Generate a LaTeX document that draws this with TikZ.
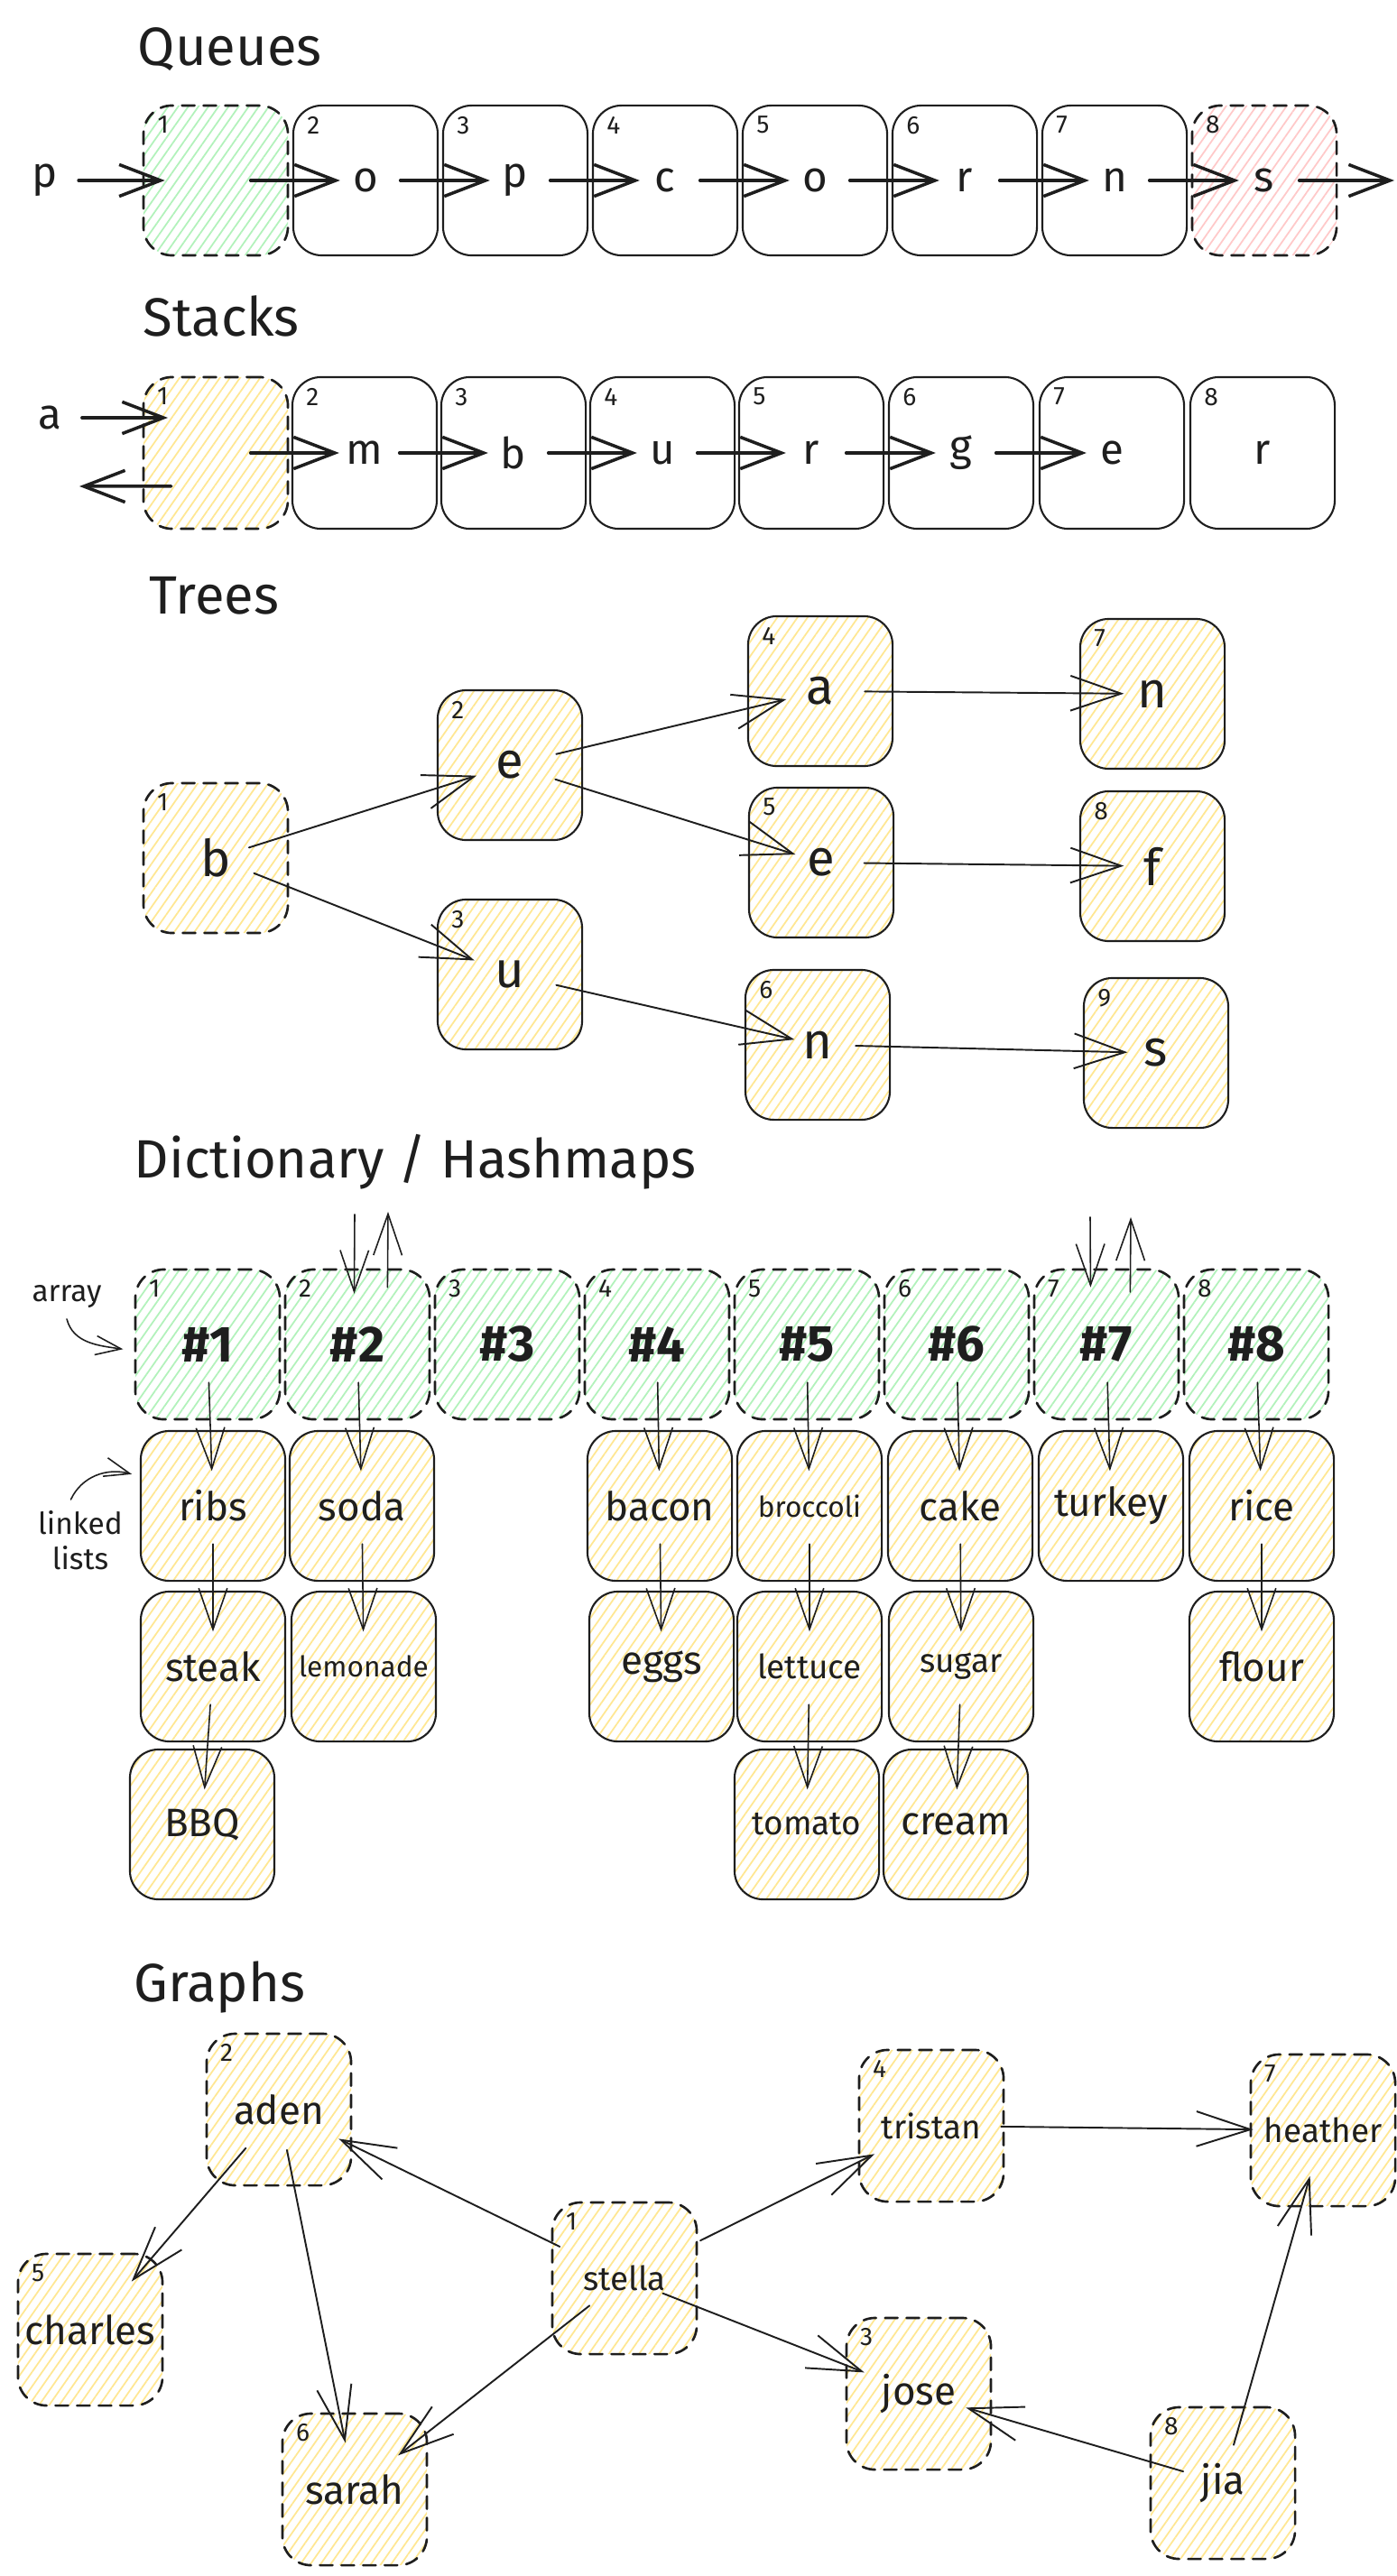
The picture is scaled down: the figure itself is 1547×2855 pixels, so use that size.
\documentclass[tikz,border=0pt]{standalone}
\usepackage{fontspec}
\setmainfont{Fira Sans}
\usetikzlibrary{arrows.meta,patterns.meta}

\definecolor{ink}{HTML}{1E1E1E}
\definecolor{hgreen}{HTML}{B2F2BB}
\definecolor{hyellow}{HTML}{FFE793}
\definecolor{hred}{HTML}{FFC9C9}

\newcommand{\ttlfont}{\fontsize{17}{20}\selectfont}
\newcommand{\letfont}{\fontsize{13.5}{15}\selectfont}
\newcommand{\treefont}{\fontsize{16}{18}\selectfont}
\newcommand{\hashfont}{\fontsize{16}{18}\selectfont\bfseries}
\newcommand{\wordfont}{\fontsize{12.5}{14}\selectfont}
\newcommand{\midword}{\fontsize{10.5}{12}\selectfont}
\newcommand{\tinyword}{\fontsize{9}{11}\selectfont}
\newcommand{\notefont}{\fontsize{9.5}{11}\selectfont}
\newcommand{\numfont}{\fontsize{8}{9}\selectfont}

\begin{document}
\begin{tikzpicture}[x=0.01cm, y=-0.01cm, color=ink, line join=round, line cap=round,
    cell/.style={draw, rectangle, rounded corners=9pt, minimum width=1.6cm, minimum height=1.66cm, line width=0.6pt, inner sep=0pt},
    dcell/.style={cell, dash pattern=on 4pt off 2.8pt, line width=0.75pt},
    hatch/.style={pattern={Lines[angle=55,distance=2.6pt,line width=0.5pt]}, pattern color=#1},
    cellno/.style={label={[font=\numfont, anchor=north west, inner sep=0pt, xshift=4.5pt, yshift=-3.5pt]north west:#1}},
    heading/.style={font=\ttlfont, anchor=west, inner sep=0pt},
    qarr/.style={line width=1pt, -{Straight Barb[length=13pt,width=10pt]}, shorten <=11pt, shorten >=8pt},
    tarr/.style={line width=0.55pt, -{Straight Barb[length=16pt,width=11pt]}},
    darr/.style={line width=0.45pt, -{Straight Barb[length=13pt,width=9pt]}, shorten <=12pt, shorten >=11pt},
    garr/.style={line width=0.55pt, -{Straight Barb[length=17pt,width=11pt]}},
    narr/.style={line width=0.45pt, -{Straight Barb[length=8pt,width=6pt]}}]
    \useasboundingbox (0,0) rectangle (1547,2855);

    % queues
    \node[heading] (tq) at (152,55) {Queues};
    \node[font=\letfont] (pin) at (50,200) {p};
    \node[dcell, hatch=hgreen, cellno=1] (q1) at (239,200) {};
    \node[cell, font=\letfont, cellno=2] (q2) at (405,200) {o};
    \node[cell, font=\letfont, cellno=3] (q3) at (571,200) {p};
    \node[cell, font=\letfont, cellno=4] (q4) at (737,200) {c};
    \node[cell, font=\letfont, cellno=5] (q5) at (903,200) {o};
    \node[cell, font=\letfont, cellno=6] (q6) at (1069,200) {r};
    \node[cell, font=\letfont, cellno=7] (q7) at (1235,200) {n};
    \node[dcell, hatch=hred, font=\letfont, cellno=8] (q8) at (1401,200) {s};
    \coordinate (qout) at (1545,200);
    \draw[qarr, shorten <=3pt, shorten >=0pt] (pin) -- ([xshift=7pt]q1.west);
    \draw[qarr] (q1.center) -- (q2.center);
    \draw[qarr] (q2.center) -- (q3.center);
    \draw[qarr] (q3.center) -- (q4.center);
    \draw[qarr] (q4.center) -- (q5.center);
    \draw[qarr] (q5.center) -- (q6.center);
    \draw[qarr] (q6.center) -- (q7.center);
    \draw[qarr] (q7.center) -- (q8.center);
    \draw[qarr, shorten >=0pt] (q8.center) -- (qout);

    % stacks
    \node[heading] (ts) at (158,350) {Stacks};
    \node[font=\letfont] (sa) at (55,463) {a};
    \coordinate (sain) at (186,463);
    \coordinate (sback) at (88,539);
    \node[dcell, hatch=hyellow, minimum height=1.68cm, cellno=1] (s1) at (239,502) {};
    \node[cell, minimum height=1.68cm, font=\letfont, cellno=2] (s2) at (404,502) {m};
    \node[cell, minimum height=1.68cm, font=\letfont, cellno=3] (s3) at (569,502) {b};
    \node[cell, minimum height=1.68cm, font=\letfont, cellno=4] (s4) at (734,502) {u};
    \node[cell, minimum height=1.68cm, font=\letfont, cellno=5] (s5) at (899,502) {r};
    \node[cell, minimum height=1.68cm, font=\letfont, cellno=6] (s6) at (1065,502) {g};
    \node[cell, minimum height=1.68cm, font=\letfont, cellno=7] (s7) at (1232,502) {e};
    \node[cell, minimum height=1.68cm, font=\letfont, cellno=8] (s8) at (1399,502) {r};
    \draw[qarr, shorten <=3pt, shorten >=0pt] (sa) -- (sain);
    \draw[qarr, shorten <=0pt, shorten >=0pt] ([xshift=-14pt,yshift=-10.5pt]s1.center) -- (sback);
    \draw[qarr] (s1.center) -- (s2.center);
    \draw[qarr] (s2.center) -- (s3.center);
    \draw[qarr] (s3.center) -- (s4.center);
    \draw[qarr] (s4.center) -- (s5.center);
    \draw[qarr] (s5.center) -- (s6.center);
    \draw[qarr] (s6.center) -- (s7.center);

    % trees
    \node[heading] (tt) at (165,660) {Trees};
    \node[dcell, hatch=hyellow, font=\treefont, cellno=1] (t1) at (239,951) {b};
    \node[cell, hatch=hyellow, font=\treefont, cellno=2] (t2) at (565,848) {e};
    \node[cell, hatch=hyellow, font=\treefont, cellno=3] (t3) at (565,1080) {u};
    \node[cell, hatch=hyellow, font=\treefont, cellno=4] (t4) at (909,766) {a};
    \node[cell, hatch=hyellow, font=\treefont, cellno=5] (t5) at (910,956) {e};
    \node[cell, hatch=hyellow, font=\treefont, cellno=6] (t6) at (906,1158) {n};
    \node[cell, hatch=hyellow, font=\treefont, cellno=7] (t7) at (1277,769) {n};
    \node[cell, hatch=hyellow, font=\treefont, cellno=8] (t8) at (1277,960) {f};
    \node[cell, hatch=hyellow, font=\treefont, cellno=9] (t9) at (1281,1167) {s};
    \draw[tarr, shorten <=11pt, shorten >=11pt] (t1.center) -- (t2.center);
    \draw[tarr, shorten <=13pt, shorten >=12pt] (t1.center) -- (t3.center);
    \draw[tarr, shorten <=15pt, shorten >=11pt] (t2.center) -- (t4.center);
    \draw[tarr, shorten <=15pt, shorten >=8.5pt] (t2.center) -- (t5.center);
    \draw[tarr, shorten <=15pt, shorten >=7.5pt] (t3.center) -- (t6.center);
    \draw[tarr, shorten <=14pt, shorten >=9pt] (t4.center) -- (t7.center);
    \draw[tarr, shorten <=13.5pt, shorten >=9pt] (t5.center) -- (t8.center);
    \draw[tarr, shorten <=12pt, shorten >=9pt] (t6.center) -- (t9.center);

    % dictionary / hashmaps
    \node[heading] (td) at (148,1288) {Dictionary / Hashmaps};
    \node[dcell, hatch=hgreen, font=\hashfont, cellno=1] (h1) at (230,1490) {\#1};
    \node[dcell, hatch=hgreen, font=\hashfont, cellno=2] (h2) at (396,1490) {\#2};
    \node[dcell, hatch=hgreen, font=\hashfont, cellno=3] (h3) at (562,1490) {\#3};
    \node[dcell, hatch=hgreen, font=\hashfont, cellno=4] (h4) at (728,1490) {\#4};
    \node[dcell, hatch=hgreen, font=\hashfont, cellno=5] (h5) at (894,1490) {\#5};
    \node[dcell, hatch=hgreen, font=\hashfont, cellno=6] (h6) at (1060,1490) {\#6};
    \node[dcell, hatch=hgreen, font=\hashfont, cellno=7] (h7) at (1226,1490) {\#7};
    \node[dcell, hatch=hgreen, font=\hashfont, cellno=8] (h8) at (1392,1490) {\#8};
    \node[font=\notefont] (alab) at (74,1437) {array};
    \node[font=\notefont, align=center] (llab) at (89,1707) {linked\\lists};
    \node[cell, hatch=hyellow, font=\wordfont] (ribs) at (236,1669) {ribs};
    \node[cell, hatch=hyellow, font=\wordfont] (soda) at (401,1669) {soda};
    \node[cell, hatch=hyellow, font=\wordfont] (bacon) at (731,1669) {bacon};
    \node[cell, hatch=hyellow, font=\tinyword] (broccoli) at (897,1669) {broccoli};
    \node[cell, hatch=hyellow, font=\wordfont] (cake) at (1064,1669) {cake};
    \node[cell, hatch=hyellow, font=\wordfont] (turkey) at (1231,1669) {turkey};
    \node[cell, hatch=hyellow, font=\wordfont] (rice) at (1398,1669) {rice};
    \node[cell, hatch=hyellow, font=\wordfont] (steak) at (236,1847) {steak};
    \node[cell, hatch=hyellow, font=\tinyword] (lemonade) at (403,1847) {lemonade};
    \node[cell, hatch=hyellow, font=\wordfont] (eggs) at (733,1847) {eggs};
    \node[cell, hatch=hyellow, font=\midword] (lettuce) at (897,1847) {lettuce};
    \node[cell, hatch=hyellow, font=\midword] (sugar) at (1065,1847) {sugar};
    \node[cell, hatch=hyellow, font=\wordfont] (flour) at (1398,1847) {flour};
    \node[cell, hatch=hyellow, font=\wordfont] (bbq) at (224,2022) {BBQ};
    \node[cell, hatch=hyellow, font=\midword] (tomato) at (894,2022) {tomato};
    \node[cell, hatch=hyellow, font=\wordfont] (cream) at (1059,2022) {cream};
    \coordinate (h2in) at (393,1346);
    \coordinate (h2out) at (430,1343);
    \coordinate (h7in) at (1208,1349);
    \coordinate (h7out) at (1253,1349);
    \draw[darr, shorten <=0pt, shorten >=0pt] (h2in) -- ([xshift=-1pt,yshift=-8pt]h2.north);
    \draw[darr, shorten <=0pt, shorten >=0pt] ([xshift=9.5pt,yshift=-6pt]h2.north) -- (h2out);
    \draw[darr, shorten <=0pt, shorten >=0pt] (h7in) -- ([xshift=-5pt,yshift=-6pt]h7.north);
    \draw[darr, shorten <=0pt, shorten >=0pt] ([xshift=7.5pt,yshift=-7.5pt]h7.north) -- (h7out);
    \draw[darr] (h1.center) -- (ribs.center);
    \draw[darr] (ribs.center) -- (steak.center);
    \draw[darr] (steak.center) -- (bbq.center);
    \draw[darr] (h2.center) -- (soda.center);
    \draw[darr] (soda.center) -- (lemonade.center);
    \draw[darr] (h4.center) -- (bacon.center);
    \draw[darr] (bacon.center) -- (eggs.center);
    \draw[darr] (h5.center) -- (broccoli.center);
    \draw[darr] (broccoli.center) -- (lettuce.center);
    \draw[darr] (lettuce.center) -- (tomato.center);
    \draw[darr] (h6.center) -- (cake.center);
    \draw[darr] (cake.center) -- (sugar.center);
    \draw[darr] (sugar.center) -- (cream.center);
    \draw[darr] (h7.center) -- (turkey.center);
    \draw[darr] (h8.center) -- (rice.center);
    \draw[darr] (rice.center) -- (flour.center);
    \draw[narr] (alab.south) to[out=-75,in=172] ([xshift=-3.5pt,yshift=-1.5pt]h1.west);
    \draw[narr] ([xshift=-3pt]llab.north) to[out=65,in=165] ([xshift=-2.5pt,yshift=10pt]ribs.west);

    % graphs
    \node[heading] (tg) at (148,2202) {Graphs};
    \node[dcell, minimum height=1.68cm, hatch=hyellow, font=\midword, cellno=1] (stella) at (692,2525) {stella};
    \node[dcell, minimum height=1.68cm, hatch=hyellow, font=\wordfont, cellno=2] (aden) at (309,2338) {aden};
    \node[dcell, minimum height=1.68cm, hatch=hyellow, font=\wordfont, cellno=3] (jose) at (1018,2653) {jose};
    \node[dcell, minimum height=1.68cm, hatch=hyellow, font=\midword, cellno=4] (tristan) at (1032,2356) {tristan};
    \node[dcell, minimum height=1.68cm, hatch=hyellow, font=\wordfont, cellno=5] (charles) at (100,2582) {charles};
    \node[dcell, minimum height=1.68cm, hatch=hyellow, font=\wordfont, cellno=6] (sarah) at (393,2759) {sarah};
    \node[dcell, minimum height=1.68cm, hatch=hyellow, font=\midword, cellno=7] (heather) at (1466,2361) {heather};
    \node[dcell, minimum height=1.68cm, hatch=hyellow, font=\wordfont, cellno=8] (jia) at (1355,2752) {jia};
    \draw[garr, shorten <=22.7pt, shorten >=21pt] (stella.center) -- (aden.center);
    \draw[garr, shorten <=26.7pt, shorten >=20pt] (stella.center) -- (tristan.center);
    \draw[garr, shorten <=13pt, shorten >=18.4pt] (stella.center) -- (jose.center);
    \draw[garr, shorten <=14pt, shorten >=17.4pt] (stella.center) -- (sarah.center);
    \draw[garr, shorten <=16pt, shorten >=20pt] (aden.center) -- (charles.center);
    \draw[garr, shorten <=13pt, shorten >=15pt] (aden.center) -- (sarah.center);
    \draw[garr, shorten <=22pt, shorten >=22pt] (tristan.center) -- (heather.center);
    \draw[garr, shorten <=12.5pt, shorten >=15pt] (jia.center) -- (heather.center);
    \draw[garr, shorten <=13pt, shorten >=15.5pt] (jia.center) -- (jose.center);
\end{tikzpicture}
\end{document}
